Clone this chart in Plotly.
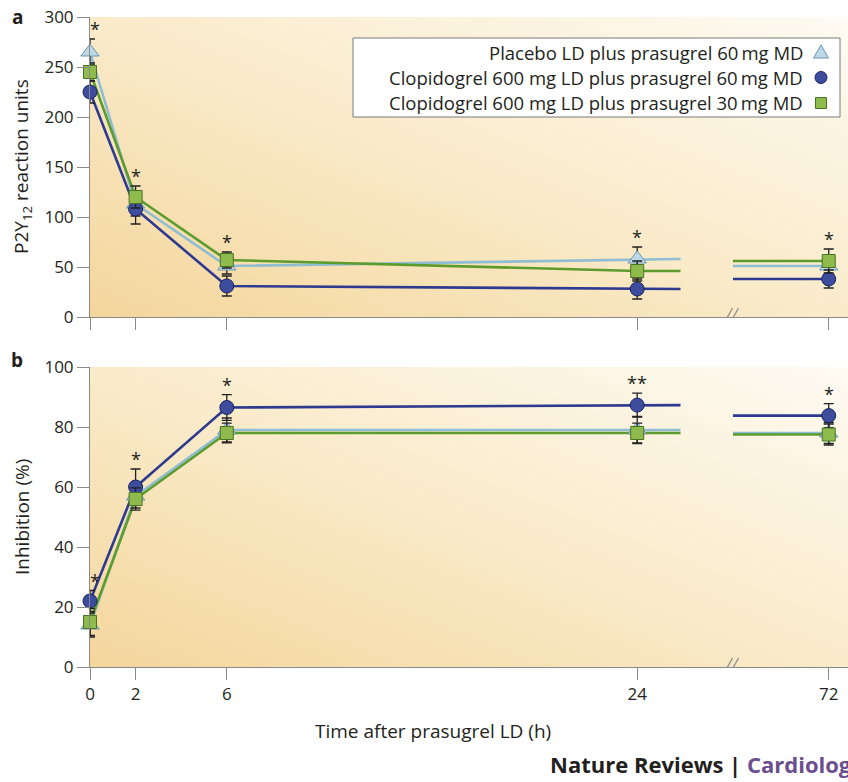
import base64
import plotly.graph_objects as go

# ---------------- data ----------------
hours = [0, 2, 6, 24, 72]
hour_labels = ["0", "2", "6", "24", "72"]

series_names = [
    "Placebo LD plus prasugrel 60\u2009mg MD",
    "Clopidogrel 600 mg LD plus prasugrel 60\u2009mg MD",
    "Clopidogrel 600 mg LD plus prasugrel 30\u2009mg MD",
]

# panel a: P2Y12 reaction units
pru_placebo = [265, 113, 51, 58, 51]
pru_placebo_err = [13, 12, 8, 12, 8]
pru_clop60 = [225, 108, 31, 28, 38]
pru_clop60_err = [11, 15, 10, 10, 9]
pru_clop30 = [245, 120, 57, 46, 56]
pru_clop30_err = [9, 11, 8, 10, 12]

# panel b: inhibition (%)
inh_placebo = [14, 57, 79, 79, 78]
inh_placebo_err = [4, 4, 4, 4.5, 3.5]
inh_clop60 = [22, 60, 86.5, 87.3, 83.8]
inh_clop60_err = [3.5, 6, 4.3, 4, 4]
inh_clop30 = [15, 56, 78, 78, 77.5]
inh_clop30_err = [4.5, 3.7, 3.3, 3.3, 3.5]

sig_a = ["*", "*", "*", "*", "*"]
sig_b = ["*", "*", "*", "**", "*"]

# ---------------- styling ----------------
W, H = 848, 782
FONT = "Open Sans"
TXT = "#231f20"
AX = "#8a8a8a"

line_colors = ["#8fbdd3", "#2e3990", "#5e9b2d"]
fill_colors = ["#bdd8e6", "#3d4c9c", "#8fbb4c"]
edge_colors = ["#6a97ae", "#1a2361", "#4a7424"]
symbols = ["triangle-up", "circle", "square"]
sizes = [16, 14, 13]

BREAK_AFTER = 24
COMPRESS = 0.175  # display units per hour beyond the axis break
STUB_AFTER = 1.9  # line extension after last point before break
STUB_BEFORE = 4.2  # line lead-in before point after break
BREAK_X = 28.05


def xpos(h):
    return h if h <= BREAK_AFTER else BREAK_AFTER + (h - BREAK_AFTER) * COMPRESS


def px_x(p):
    return p / W


def px_y(p):
    return 1 - p / H


PLOT_L = 90
A_TOP, A_BOT = 17, 317
B_TOP, B_BOT = 367, 667
PX_PER_UNIT = 22.8
XMAX = (W - PLOT_L) / PX_PER_UNIT

fig = go.Figure()

panels = [
    ("x", "y", [pru_placebo, pru_clop60, pru_clop30], [pru_placebo_err, pru_clop60_err, pru_clop30_err], sig_a),
    ("x2", "y2", [inh_placebo, inh_clop60, inh_clop30], [inh_placebo_err, inh_clop60_err, inh_clop30_err], sig_b),
]

xs = [xpos(h) for h in hours]
annotations = []

for xa, ya, vals, errs, sigs in panels:
    for k in range(3):
        v = vals[k]
        pre = [i for i, h in enumerate(hours) if h <= BREAK_AFTER]
        post = [i for i, h in enumerate(hours) if h > BREAK_AFTER]
        lx = [xs[i] for i in pre] + [xs[pre[-1]] + STUB_AFTER, None, xs[post[0]] - STUB_BEFORE] + [xs[i] for i in post]
        ly = [v[i] for i in pre] + [v[pre[-1]], None, v[post[0]]] + [v[i] for i in post]
        fig.add_trace(go.Scatter(x=lx, y=ly, mode="lines", xaxis=xa, yaxis=ya,
                                 line=dict(color=line_colors[k], width=2.6),
                                 showlegend=False, hoverinfo="skip", cliponaxis=False))
    for k in range(3):
        fig.add_trace(go.Scatter(
            x=xs, y=vals[k], mode="markers", xaxis=xa, yaxis=ya, name=series_names[k],
            marker=dict(symbol=symbols[k], size=sizes[k], color=fill_colors[k],
                        line=dict(color=edge_colors[k], width=1)),
            error_y=dict(type="data", array=errs[k], visible=True, color="#222222", thickness=1.3, width=5),
            showlegend=False, cliponaxis=False))
    for i in range(len(hours)):
        top = max(vals[k][i] + errs[k][i] for k in range(3))
        annotations.append(dict(x=xs[i], y=top, xref=xa, yref=ya, text=sigs[i], showarrow=False,
                                xanchor="center", yanchor="bottom", yshift=-4,
                                xshift=5 if hours[i] == 0 else 0,
                                font=dict(family=FONT, size=18, color=TXT)))


def grad_svg(w, h):
    svg = (f'<svg xmlns="http://www.w3.org/2000/svg" width="{w}" height="{h}" viewBox="0 0 {w} {h}" '
           f'preserveAspectRatio="none"><defs><linearGradient id="g" x1="0" y1="1" x2="1" y2="0">'
           f'<stop offset="0" stop-color="#f4d69c"/><stop offset="0.45" stop-color="#f9e9c6"/>'
           f'<stop offset="1" stop-color="#fefbf3"/></linearGradient></defs>'
           f'<rect width="{w}" height="{h}" fill="url(#g)"/></svg>')
    return "data:image/svg+xml;base64," + base64.b64encode(svg.encode()).decode()


images = []
for top, bot in [(A_TOP, A_BOT), (B_TOP, B_BOT)]:
    images.append(dict(source=grad_svg(W - PLOT_L, bot - top), xref="paper", yref="paper",
                       x=px_x(PLOT_L), y=px_y(top), sizex=(W - PLOT_L) / W, sizey=(bot - top) / H,
                       xanchor="left", yanchor="top", sizing="stretch", layer="below"))

common_x = dict(range=[0, XMAX], tickvals=xs, ticktext=hour_labels, ticks="outside", ticklen=12,
                tickcolor=AX, tickwidth=1, showline=True, linecolor=AX, linewidth=1, showgrid=False,
                zeroline=False, automargin=False, tickfont=dict(family=FONT, size=17, color=TXT))
common_y = dict(ticks="outside", ticklen=12, tickcolor=AX, tickwidth=1, showline=True, linecolor=AX,
                linewidth=1, showgrid=False, zeroline=False, automargin=False,
                tickfont=dict(family=FONT, size=17, color=TXT))

fig.update_layout(
    xaxis=dict(domain=[px_x(PLOT_L), 1], anchor="y", showticklabels=False, **common_x),
    yaxis=dict(domain=[px_y(A_BOT), px_y(A_TOP)], anchor="x", range=[0, 300], dtick=50, **common_y),
    xaxis2=dict(domain=[px_x(PLOT_L), 1], anchor="y2", **common_x),
    yaxis2=dict(domain=[px_y(B_BOT), px_y(B_TOP)], anchor="x2", range=[0, 100], dtick=20, **common_y),
)

shapes = []
# axis break marks
for xa, ya in [("x", "y"), ("x2", "y2")]:
    for off in (0, 6):
        shapes.append(dict(type="line", xref=xa, yref=ya, xsizemode="pixel", ysizemode="pixel",
                           xanchor=BREAK_X, yanchor=0, x0=-7 + off, x1=3 + off, y0=-9, y1=9,
                           line=dict(color=AX, width=1.2)))

# custom legend (symbols to the right of right-aligned text)
LEG_L, LEG_R, LEG_T, LEG_B = 353, 840, 38, 117
shapes.append(dict(type="rect", xref="paper", yref="paper", x0=px_x(LEG_L), x1=px_x(LEG_R),
                   y0=px_y(LEG_B), y1=px_y(LEG_T), fillcolor="white", line=dict(color="#7a7a7a", width=1),
                   layer="below"))
leg_rows = [52, 77.5, 103]
SYM_X, R = 821, 6
for k in range(3):
    annotations.append(dict(x=px_x(805), y=px_y(leg_rows[k]), xref="paper", yref="paper",
                            text=series_names[k], showarrow=False, xanchor="right", yanchor="middle",
                            font=dict(family=FONT, size=18.5, color=TXT)))
    cy = leg_rows[k]
    common = dict(xref="paper", yref="paper", fillcolor=fill_colors[k],
                  line=dict(color=edge_colors[k], width=1), layer="below")
    if symbols[k] == "circle":
        shapes.append(dict(type="circle", x0=px_x(SYM_X - R), x1=px_x(SYM_X + R),
                           y0=px_y(cy + R), y1=px_y(cy - R), **common))
    elif symbols[k] == "square":
        shapes.append(dict(type="rect", x0=px_x(SYM_X - R + 0.5), x1=px_x(SYM_X + R - 0.5),
                           y0=px_y(cy + R - 0.5), y1=px_y(cy - R + 0.5), **common))
    else:
        path = (f"M {px_x(SYM_X - 7.5)},{px_y(cy + 6)} L {px_x(SYM_X + 7.5)},{px_y(cy + 6)} "
                f"L {px_x(SYM_X)},{px_y(cy - 7)} Z")
        shapes.append(dict(type="path", path=path, **common))


def label(x, y, text, size, **kw):
    d = dict(x=px_x(x), y=px_y(y), xref="paper", yref="paper", text=text, showarrow=False,
             xanchor="center", yanchor="middle", font=dict(family=FONT, size=size, color=TXT))
    d.update(kw)
    return d


annotations += [
    label(17, 17, "<b>a</b>", 19),
    label(17, 360, "<b>b</b>", 19),
    label(22, 167, "P2Y<sub>12</sub> reaction units", 19, textangle=-90),
    label(22, 517, "Inhibition (%)", 19, textangle=-90),
    label(433, 731, "Time after prasugrel LD (h)", 19),
    label(548, 764, "<b>Nature Reviews | <span style='color:#6b4e8e'>Cardiology</span></b>", 22,
          xanchor="left"),
]

fig.update_layout(
    width=W, height=H, margin=dict(l=0, r=0, t=0, b=0, autoexpand=False),
    paper_bgcolor="white", plot_bgcolor="rgba(0,0,0,0)",
    images=images, shapes=shapes, annotations=annotations, showlegend=False,
    font=dict(family=FONT, color=TXT),
)

fig.write_html("out.html")
